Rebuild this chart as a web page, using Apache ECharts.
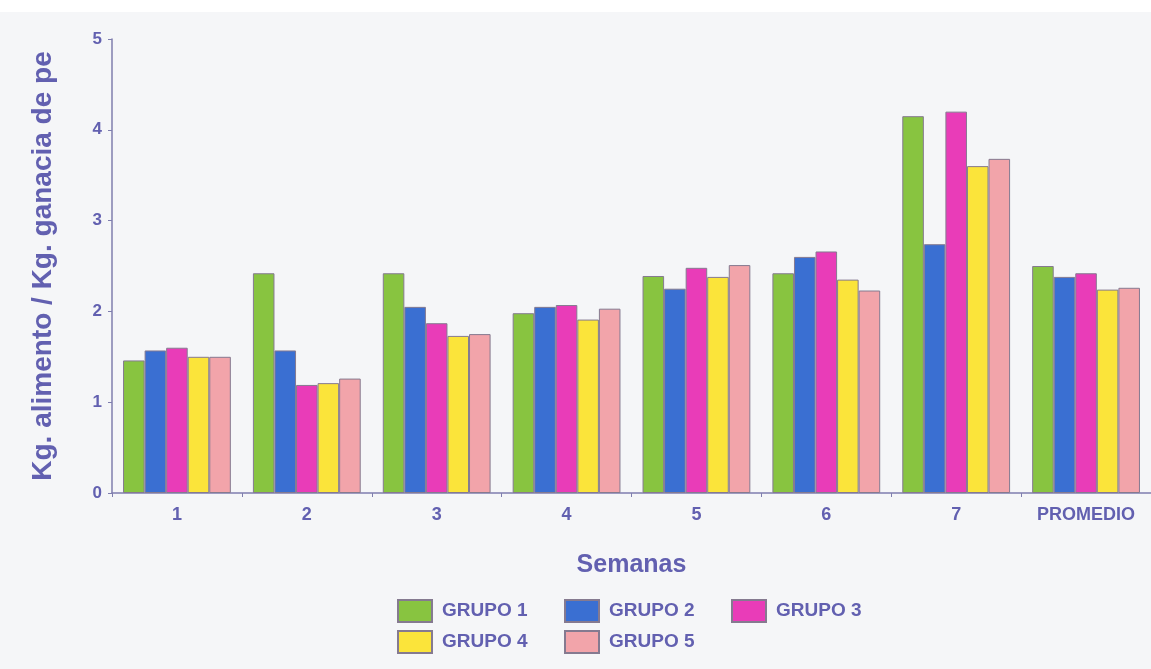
<!DOCTYPE html>
<html>
<head>
<meta charset="utf-8">
<script src="https://cdn.jsdelivr.net/npm/echarts@6/dist/echarts.min.js"></script>
<style>
  html, body { margin: 0; padding: 0; background: #ffffff; }
  #chart { width: 1151px; height: 669px; }
</style>
</head>
<body>
<div id="chart"></div>
<script>
// Feed conversion per week (kg feed / kg weight gain)
const categories = ['1', '2', '3', '4', '5', '6', '7', 'PROMEDIO'];
const grupo1 = [1.46, 2.42, 2.42, 1.98, 2.39, 2.42, 4.15, 2.50];
const grupo2 = [1.57, 1.57, 2.05, 2.05, 2.25, 2.60, 2.74, 2.38];
const grupo3 = [1.60, 1.19, 1.87, 2.07, 2.48, 2.66, 4.20, 2.42];
const grupo4 = [1.50, 1.21, 1.73, 1.91, 2.38, 2.35, 3.60, 2.24];
const grupo5 = [1.50, 1.26, 1.75, 2.03, 2.51, 2.23, 3.68, 2.26];
const seriesNames = ['GRUPO 1', 'GRUPO 2', 'GRUPO 3', 'GRUPO 4', 'GRUPO 5'];
const seriesColors = ['#88c440', '#3a6fd2', '#e93cb8', '#fbe43a', '#f2a4aa'];
const yTicks = [0, 1, 2, 3, 4, 5];

const ink = '#6260b0';
const font = '"Liberation Sans", Arial, sans-serif';
const values = [grupo1, grupo2, grupo3, grupo4, grupo5];

const series = seriesNames.map((name, i) => ({
  name: name,
  type: 'bar',
  data: values[i],
  barGap: '0%',
  barCategoryGap: '17%',
  itemStyle: { color: seriesColors[i], borderColor: '#857a90', borderWidth: 1 }
}));

// one legend per entry so the two rows line up in columns
const legendPos = [[397, 599], [564, 599], [731, 599], [397, 630], [564, 630]];
const legends = seriesNames.map((name, i) => ({
  data: [{ name: name, icon: 'rect' }],
  left: legendPos[i][0],
  top: legendPos[i][1],
  itemWidth: 34,
  itemHeight: 22,
  itemGap: 0,
  selectedMode: false,
  padding: 0,
  textStyle: { color: ink, fontFamily: font, fontWeight: 'bold', fontSize: 19, padding: [0, 0, 0, 5] }
}));

const chart = echarts.init(document.getElementById('chart'));
chart.setOption({
  backgroundColor: '#f5f6f8',
  animation: false,
  graphic: [{
    type: 'rect', left: 0, top: 0, z: -10,
    shape: { width: 1151, height: 12 },
    style: { fill: '#ffffff' }
  }],
  grid: { left: 112, top: 39, width: 1042, height: 454, containLabel: false },
  legend: legends,
  xAxis: {
    type: 'category',
    data: categories,
    name: 'Semanas',
    nameLocation: 'middle',
    nameGap: 60,
    nameTextStyle: { color: ink, fontFamily: font, fontWeight: 'bold', fontSize: 25, verticalAlign: 'top' },
    axisLine: { lineStyle: { color: '#7f7eae', width: 1.5 } },
    axisTick: { show: true, length: 4, lineStyle: { color: '#7f7eae' } },
    axisLabel: { color: ink, fontFamily: font, fontWeight: 'bold', fontSize: 18, margin: 13 },
    splitLine: { show: false }
  },
  yAxis: {
    type: 'value',
    min: yTicks[0],
    max: yTicks[yTicks.length - 1],
    interval: 1,
    name: 'Kg. alimento / Kg. ganacia de pe',
    nameLocation: 'middle',
    nameRotate: 90,
    nameGap: 55,
    nameTextStyle: { color: ink, fontFamily: font, fontWeight: 'bold', fontSize: 28 },
    axisLine: { show: true, lineStyle: { color: '#7f7eae', width: 1.5 } },
    axisTick: { show: true, length: 4, lineStyle: { color: '#7f7eae' } },
    axisLabel: { color: ink, fontFamily: font, fontWeight: 'bold', fontSize: 17, margin: 10 },
    splitLine: { show: false }
  },
  series: series
});
</script>
</body>
</html>
